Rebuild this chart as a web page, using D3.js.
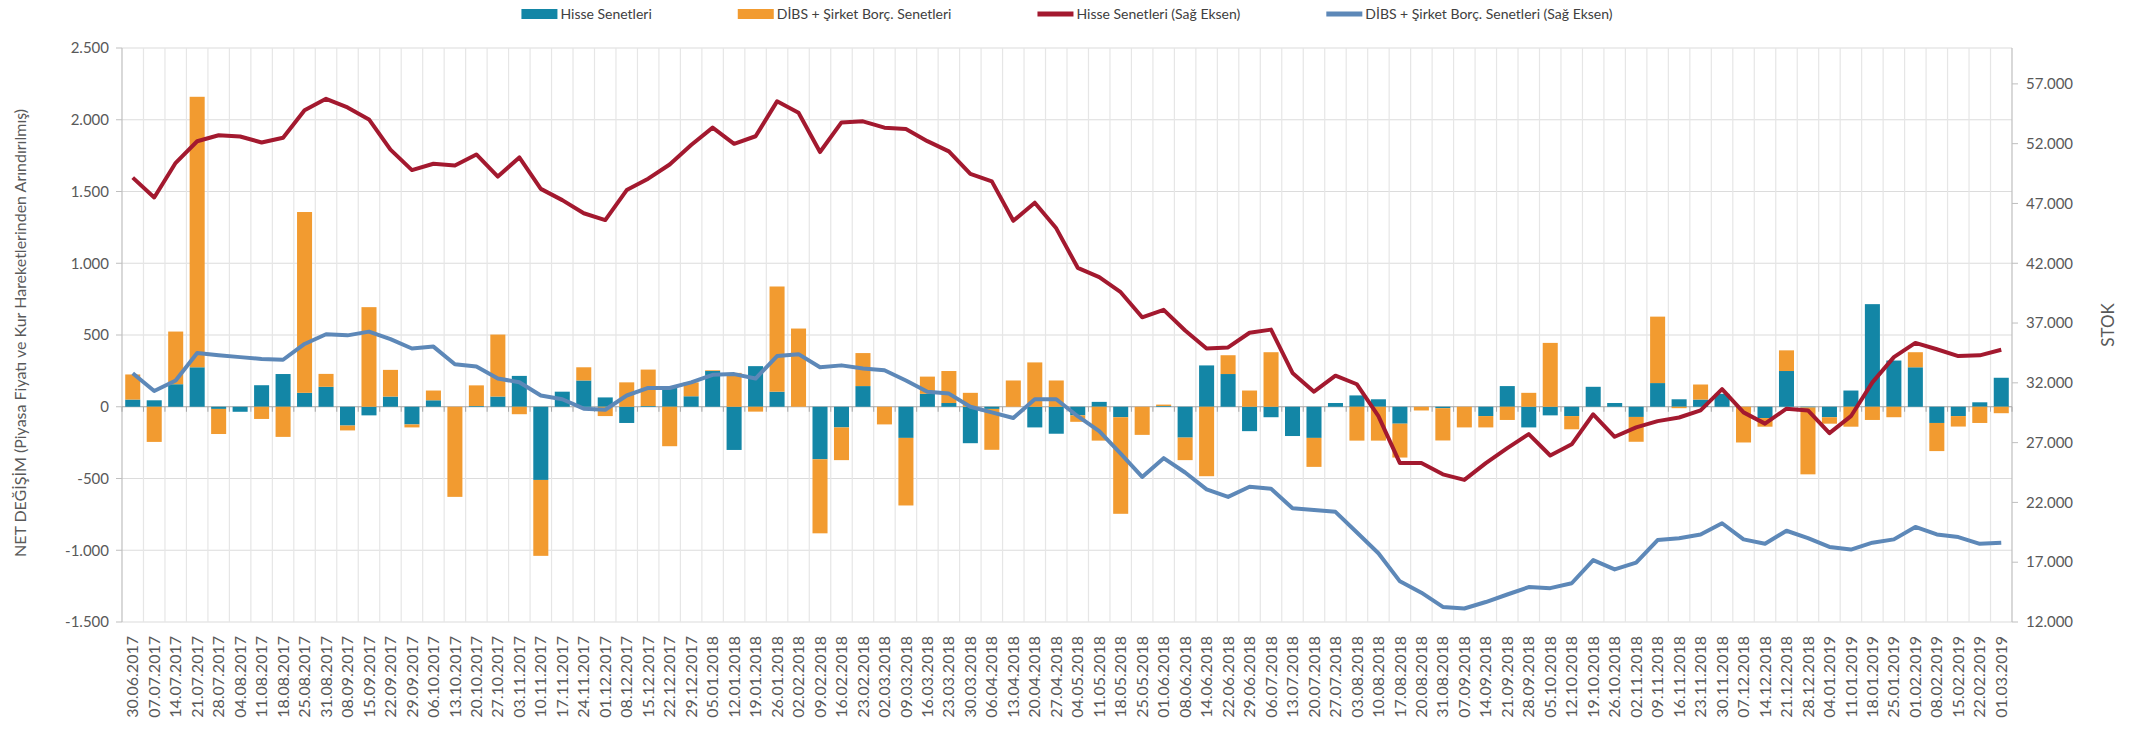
<!DOCTYPE html>
<html>
<head>
<meta charset="utf-8">
<script src="https://cdn.jsdelivr.net/npm/d3@7"></script>
<style>
  body { margin: 0; background: #fff; }
  svg { display: block; font-family: Lato, "Liberation Sans", sans-serif; }
  .tick-label { fill: #595959; font-size: 15px; }
  .date-label { fill: #595959; font-size: 16px; }
  .axis-title { fill: #595959; font-size: 16px; }
  .legend-text { fill: #404040; font-size: 14px; }
</style>
</head>
<body>
<svg id="chart" width="2132" height="736"></svg>
<script>
const dates = [
  "30.06.2017", "07.07.2017", "14.07.2017", "21.07.2017", "28.07.2017", "04.08.2017", "11.08.2017", "18.08.2017",
  "25.08.2017", "31.08.2017", "08.09.2017", "15.09.2017", "22.09.2017", "29.09.2017", "06.10.2017", "13.10.2017",
  "20.10.2017", "27.10.2017", "03.11.2017", "10.11.2017", "17.11.2017", "24.11.2017", "01.12.2017", "08.12.2017",
  "15.12.2017", "22.12.2017", "29.12.2017", "05.01.2018", "12.01.2018", "19.01.2018", "26.01.2018", "02.02.2018",
  "09.02.2018", "16.02.2018", "23.02.2018", "02.03.2018", "09.03.2018", "16.03.2018", "23.03.2018", "30.03.2018",
  "06.04.2018", "13.04.2018", "20.04.2018", "27.04.2018", "04.05.2018", "11.05.2018", "18.05.2018", "25.05.2018",
  "01.06.2018", "08.06.2018", "14.06.2018", "22.06.2018", "29.06.2018", "06.07.2018", "13.07.2018", "20.07.2018",
  "27.07.2018", "03.08.2018", "10.08.2018", "17.08.2018", "20.08.2018", "31.08.2018", "07.09.2018", "14.09.2018",
  "21.09.2018", "28.09.2018", "05.10.2018", "12.10.2018", "19.10.2018", "26.10.2018", "02.11.2018", "09.11.2018",
  "16.11.2018", "23.11.2018", "30.11.2018", "07.12.2018", "14.12.2018", "21.12.2018", "28.12.2018", "04.01.2019",
  "11.01.2019", "18.01.2019", "25.01.2019", "01.02.2019", "08.02.2019", "15.02.2019", "22.02.2019", "01.03.2019"
];

// net change, left axis
const hisseNet = [
  50, 45, 157, 275, -15, -35, 150, 228, 97, 139, -131, -60, 71, -123, 45, 0,
  5, 71, 215, -510, 105, 183, 65, -113, 5, 131, 73, 249, -301, 283, 105, 0,
  -366, -144, 144, 0, -217, 90, 26, -254, -15, 0, -144, -188, -60, 34, -73, 0,
  5, -215, 288, 228, -170, -73, -204, -217, 26, 79, 52, -118, 0, -10, 0, -65,
  144, -144, -60, -65, 139, 26, -71, 165, 52, 50, 90, 0, -79, 249, -5, -73,
  113, 715, 322, 275, -113, -65, 31, 202
];
const dibsNet = [
  175, -245, 367, 1885, -175, 0, -85, -210, 1260, 90, -34, 694, 186, -21, 68, -628,
  144, 432, -52, -529, 0, 92, -65, 170, 254, -275, 97, 5, 236, -34, 733, 545,
  -516, -228, 230, -123, -471, 120, 223, 97, -285, 183, 309, 183, -45, -236, -673, -196,
  10, -157, -484, 131, 113, 380, 0, -202, 0, -236, -236, -236, -26, -225, -144, -79,
  -92, 97, 445, -92, 0, 0, -173, 463, -10, 105, 0, -249, -60, 144, -466, -45,
  -139, -92, -73, 105, -196, -73, -113, -45
];

// stock, right axis
const hisseStok = [
  49160, 47500, 50400, 52200, 52700, 52600, 52100, 52500, 54800, 55750, 55030, 54030, 51500, 49790, 50320, 50170,
  51100, 49250, 50850, 48220, 47280, 46180, 45610, 48120, 49070, 50260, 51890, 53340, 51990, 52620, 55540, 54590,
  51300, 53780, 53870, 53340, 53220, 52210, 51360, 49470, 48850, 45550, 47060, 44920, 41620, 40840, 39580, 37480,
  38100, 36380, 34870, 34960, 36190, 36450, 32830, 31260, 32600, 31880, 29210, 25290, 25290, 24350, 23880, 25290,
  26540, 27710, 25920, 26860, 29370, 27490, 28270, 28800, 29100, 29690, 31480, 29530, 28590, 29840, 29690, 27800,
  29210, 32040, 34150, 35340, 34810, 34240, 34300, 34770
];
const dibsStok = [
  32800, 31320, 32200, 34490, 34300, 34150, 33990, 33930, 35250, 36060, 35970, 36280, 35650, 34870, 35030, 33550,
  33360, 32360, 32050, 30940, 30630, 29840, 29750, 30940, 31570, 31570, 32040, 32670, 32730, 32360, 34240, 34400,
  33300, 33460, 33200, 33050, 32200, 31260, 31100, 30000, 29530, 29060, 30630, 30630, 29210, 27960, 26070, 24130,
  25700, 24500, 23090, 22460, 23310, 23150, 21520, 21360, 21210, 19480, 17750, 15400, 14450, 13260, 13130, 13670,
  14300, 14920, 14830, 15240, 17180, 16400, 16970, 18850, 19010, 19320, 20260, 18910, 18540, 19630, 19010, 18280,
  18060, 18630, 18910, 19950, 19320, 19100, 18540, 18630
];

const leftTicks = [-1500, -1000, -500, 0, 500, 1000, 1500, 2000, 2500];
const rightTicks = [12000, 17000, 22000, 27000, 32000, 37000, 42000, 47000, 52000, 57000];

const legendItems = [
  { label: "Hisse Senetleri", type: "bar", color: "#1386a6" },
  { label: "DİBS + Şirket Borç. Senetleri", type: "bar", color: "#f29b30" },
  { label: "Hisse Senetleri (Sağ Eksen)", type: "line", color: "#a3192f" },
  { label: "DİBS + Şirket Borç. Senetleri (Sağ Eksen)", type: "line", color: "#5d88b8" }
];

const colors = { h: "#1386a6", d: "#f29b30", hs: "#a3192f", ds: "#5d88b8" };

const svg = d3.select("#chart");
const plotLeft = 122, plotRight = 2012, plotTop = 48, plotBottom = 622;

const trFormat = d3.formatLocale({ decimal: ",", thousands: ".", grouping: [3], currency: ["", ""], minus: "-" }).format(",d");

const x = d3.scaleBand()
  .domain(d3.range(dates.length))
  .range([plotLeft, plotRight])
  .paddingInner(0.3)
  .paddingOuter(0.15);
const step = x.step();

const yL = d3.scaleLinear().domain([-1500, 2500]).range([plotBottom, plotTop]);
const yR = d3.scaleLinear().domain([12000, 60000]).range([plotBottom, plotTop]);

// gridlines
svg.append("g")
  .selectAll("line")
  .data(leftTicks.filter(t => t !== 0))
  .join("line")
  .attr("x1", plotLeft).attr("x2", plotRight)
  .attr("y1", d => yL(d)).attr("y2", d => yL(d))
  .attr("stroke", "#dcdcdc").attr("stroke-width", 1.2);

svg.append("g")
  .selectAll("line")
  .data(d3.range(1, dates.length))
  .join("line")
  .attr("x1", d => plotLeft + d * step).attr("x2", d => plotLeft + d * step)
  .attr("y1", plotTop).attr("y2", plotBottom)
  .attr("stroke", "#e6e6e6").attr("stroke-width", 1.2);

// left axis
const leftAxis = svg.append("g").attr("transform", `translate(${plotLeft},0)`);
leftAxis.append("line").attr("y1", plotTop).attr("y2", plotBottom).attr("stroke", "#bfbfbf").attr("stroke-width", 1.2);
leftAxis.selectAll(".tk").data(leftTicks).join("line")
  .attr("x1", -6).attr("x2", 0)
  .attr("y1", d => yL(d)).attr("y2", d => yL(d))
  .attr("stroke", "#bfbfbf");
leftAxis.selectAll("text").data(leftTicks).join("text")
  .attr("class", "tick-label")
  .attr("x", -13).attr("y", d => yL(d)).attr("dy", "0.35em")
  .attr("text-anchor", "end")
  .text(d => trFormat(d));

// right axis
const rightAxis = svg.append("g").attr("transform", `translate(${plotRight},0)`);
rightAxis.append("line").attr("y1", plotTop).attr("y2", plotBottom).attr("stroke", "#bfbfbf").attr("stroke-width", 1.2);
rightAxis.selectAll(".tk").data(rightTicks).join("line")
  .attr("x1", 0).attr("x2", 6)
  .attr("y1", d => yR(d)).attr("y2", d => yR(d))
  .attr("stroke", "#bfbfbf");
rightAxis.selectAll("text").data(rightTicks).join("text")
  .attr("class", "tick-label")
  .attr("x", 14).attr("y", d => yR(d)).attr("dy", "0.35em")
  .text(d => trFormat(d));

// zero line with category tick marks
const zeroY = yL(0);
svg.append("line")
  .attr("x1", plotLeft).attr("x2", plotRight)
  .attr("y1", zeroY).attr("y2", zeroY)
  .attr("stroke", "#a6a6a6").attr("stroke-width", 1.2);
svg.append("g").selectAll("line")
  .data(d3.range(0, dates.length + 1))
  .join("line")
  .attr("x1", d => plotLeft + d * step).attr("x2", d => plotLeft + d * step)
  .attr("y1", zeroY).attr("y2", zeroY + 5)
  .attr("stroke", "#a6a6a6");

// stacked bars
const rows = dates.map((d, i) => ({ h: hisseNet[i], d: dibsNet[i] }));
const stacked = d3.stack().keys(["h", "d"]).offset(d3.stackOffsetDiverging)(rows);

svg.append("g")
  .selectAll("g")
  .data(stacked)
  .join("g")
  .attr("fill", s => colors[s.key])
  .selectAll("rect")
  .data(s => s.map((v, i) => ({ v, i })))
  .join("rect")
  .attr("x", d => x(d.i))
  .attr("width", x.bandwidth())
  .attr("y", d => yL(Math.max(d.v[0], d.v[1])))
  .attr("height", d => Math.abs(yL(d.v[0]) - yL(d.v[1])));

// lines on the right axis
const line = d3.line()
  .x((d, i) => x(i) + x.bandwidth() / 2)
  .y(d => yR(d));

svg.append("path")
  .datum(dibsStok)
  .attr("d", line)
  .attr("fill", "none")
  .attr("stroke", colors.ds)
  .attr("stroke-width", 4)
  .attr("stroke-linejoin", "round");

svg.append("path")
  .datum(hisseStok)
  .attr("d", line)
  .attr("fill", "none")
  .attr("stroke", colors.hs)
  .attr("stroke-width", 4)
  .attr("stroke-linejoin", "round");

// date labels
svg.append("g")
  .selectAll("text")
  .data(dates)
  .join("text")
  .attr("class", "date-label")
  .attr("text-anchor", "end")
  .attr("dy", "0.35em")
  .attr("transform", (d, i) => `translate(${x(i) + x.bandwidth() / 2},636) rotate(-90)`)
  .text(d => d);

// axis titles
svg.append("text")
  .attr("class", "axis-title")
  .attr("text-anchor", "middle")
  .attr("transform", "translate(20,333) rotate(-90)")
  .attr("dy", "0.35em")
  .text("NET DEĞİŞİM (Piyasa Fiyatı ve Kur Hareketlerinden Arındırılmış)");

svg.append("text")
  .attr("class", "axis-title")
  .attr("text-anchor", "middle")
  .attr("transform", "translate(2108,325) rotate(-90)")
  .attr("dy", "0.35em")
  .style("font-size", "17px")
  .text("STOK");

// legend, centred over the plot
const legend = svg.append("g");
const swatchW = 36, gap = 86;
let cursor = 0;
legendItems.forEach(item => {
  const g = legend.append("g").attr("transform", `translate(${cursor},0)`);
  if (item.type === "bar") {
    g.append("rect").attr("x", 0).attr("y", -5).attr("width", swatchW).attr("height", 10).attr("fill", item.color);
  } else {
    g.append("rect").attr("x", 0).attr("y", -2.5).attr("width", swatchW).attr("height", 5).attr("fill", item.color);
  }
  const t = g.append("text")
    .attr("class", "legend-text")
    .attr("x", swatchW + 3)
    .attr("dy", "0.35em")
    .text(item.label);
  cursor += swatchW + 3 + t.node().getComputedTextLength() + gap;
});
const legendW = cursor - gap;
legend.attr("transform", `translate(${(plotLeft + plotRight) / 2 - legendW / 2},14)`);
</script>
</body>
</html>
